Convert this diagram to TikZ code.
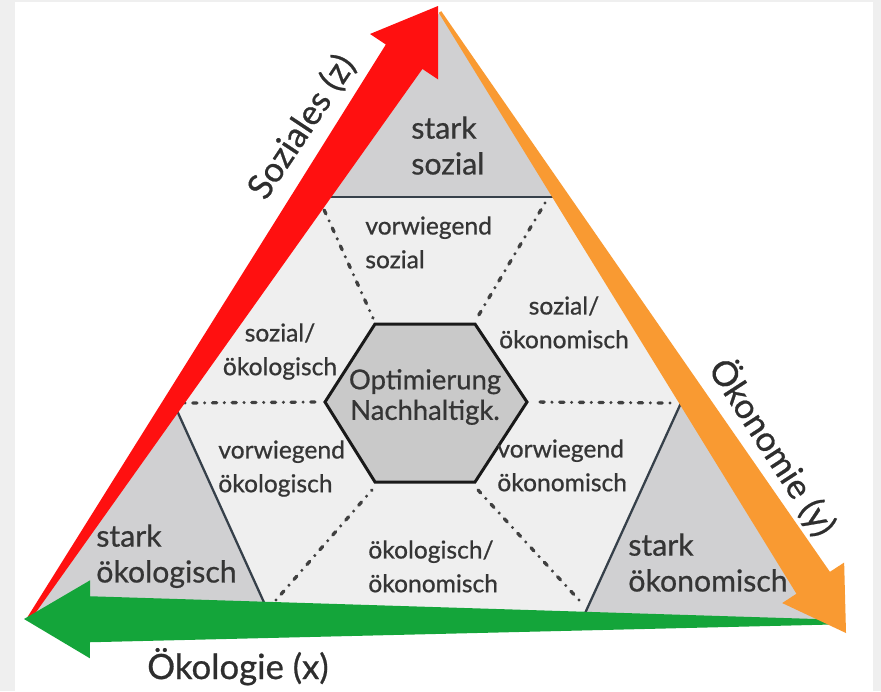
\documentclass[tikz,border=0pt]{standalone}
\usepackage{fontspec}
\setmainfont{Lato}
\newfontfamily\lblfont{Lato}[FakeBold=0.7]
\usetikzlibrary{calc}

\definecolor{framegray}{HTML}{EFEFEF}
\definecolor{midgray}{HTML}{EFEFEF}
\definecolor{cornergray}{HTML}{D0D0D2}
\definecolor{hexgray}{HTML}{C9C9C9}
\definecolor{cutline}{HTML}{36404A}
\definecolor{dotline}{HTML}{404040}
\definecolor{txtgray}{HTML}{353535}
\definecolor{socred}{HTML}{FF1010}
\definecolor{ecoorange}{HTML}{F99A32}
\definecolor{ecogreen}{HTML}{14A53A}

% wedge-shaped arrow: name, colour, tail, tip, head length, head half width,
% shaft half width at the tail, shaft half width at the neck (all in px units)
\newcommand\wedgearrow[8]{%
  \coordinate (#1-neck) at ($(#4)!#5*0.02cm!(#3)$);
  \fill[#2] ($(#3)!#7*0.02cm!90:(#4)$)
    -- ($(#1-neck)!#8*0.02cm!90:(#4)$)
    -- ($(#1-neck)!#6*0.02cm!90:(#4)$)
    -- (#4)
    -- ($(#1-neck)!#6*0.02cm!-90:(#4)$)
    -- ($(#1-neck)!#8*0.02cm!-90:(#4)$)
    -- ($(#3)!#7*0.02cm!-90:(#4)$) -- cycle;}

\begin{document}
\begin{tikzpicture}[x=0.02cm,y=-0.02cm,
  bigtxt/.style={inner sep=0pt, text=txtgray, align=left, anchor=north west,
    font=\lblfont\fontsize{17.2}{20.4}\selectfont},
  smalltxt/.style={inner sep=0pt, text=txtgray, align=left, anchor=north west,
    font=\lblfont\fontsize{14}{19.2}\selectfont},
  axistxt/.style={inner sep=0pt, text=black!82, font=\lblfont\fontsize{19.8}{22}\selectfont},
  cut/.style={draw=cutline, line width=1.3pt},
  dotsep/.style={draw=dotline, line width=1.9pt, line cap=round,
    dash pattern=on 0pt off 4.4pt on 2.4pt off 4.4pt}]

\useasboundingbox (0,0) rectangle (881,691);
\fill[framegray] (0,0) rectangle (881,691);
\fill[white] (15,2) rectangle (873,691);

% outer triangle
\coordinate (A) at (440,12);
\coordinate (B) at (28,620);
\coordinate (C) at (832,622);
\fill[midgray] (A) -- (B) -- (C) -- cycle;

% corner regions
\coordinate (T1) at (314,197);
\coordinate (T2) at (559,197);
\coordinate (L1) at (174,404);
\coordinate (L2) at (272,620);
\coordinate (R1) at (686,392);
\coordinate (R2) at (581,622);
\fill[cornergray] (A) -- (T1) -- (T2) -- cycle;
\fill[cornergray] (B) -- (L1) -- (L2) -- cycle;
\fill[cornergray] (C) -- (R1) -- (R2) -- cycle;
\draw[cut] (T1) -- (T2);
\draw[cut] (L1) -- (L2);
\draw[cut] (R1) -- (R2);

% central hexagon
\coordinate (H1) at (375,324);
\coordinate (H2) at (475,324);
\coordinate (H3) at (527,402);
\coordinate (H4) at (475,482);
\coordinate (H5) at (375,482);
\coordinate (H6) at (325,402);

% separating dotted lines
\coordinate (D1) at (321,203);
\coordinate (D2) at (545,203);
\coordinate (D3) at (185,403);
\coordinate (D4) at (670,403);
\coordinate (D5) at (276,600);
\coordinate (D6) at (579,600);
\draw[dotsep] (D1) -- ($(H1)+(-2,-6)$);
\draw[dotsep] (D2) -- ($(H2)+(2,-6)$);
\draw[dotsep] (D3) -- ($(H6)+(-6,0)$);
\draw[dotsep] (D4) -- ($(H3)+(6,0)$);
\draw[dotsep] (D5) -- ($(H5)+(-3,8)$);
\draw[dotsep] (D6) -- ($(H4)+(3,8)$);

\draw[fill=hexgray, draw=black!90, line width=1.7pt, line join=miter]
  (H1) -- (H2) -- (H3) -- (H4) -- (H5) -- (H6) -- cycle;

% region labels
\node[bigtxt] (starksoz) at (411,116) {stark\\sozial};
\node[smalltxt] (vwsoz) at (365,216) {vorwiegend\\sozial};
\node[smalltxt, align=center, anchor=north] (sozoek) at (280,323) {sozial/\\ökologisch};
\node[smalltxt, align=center, anchor=north] (sozoekon) at (564,296) {sozial/\\ökonomisch};
\node[smalltxt] (vwoek) at (218,440) {vorwiegend\\ökologisch};
\node[smalltxt] (vwoekon) at (497,439) {vorwiegend\\ökonomisch};
\node[smalltxt] (oekoekon) at (368,540) {ökologisch/\\ökonomisch};
\node[bigtxt] (starkoek) at (96,524) {stark\\ökologisch};
\node[bigtxt] (starkoekon) at (628,533) {stark\\ökonomisch};
\node[inner sep=0pt, text=txtgray, align=center,
  font=\lblfont\fontsize{15.6}{17.4}\selectfont] (optim) at (425,397) {Optimierung\\Nachhaltigk.};

% axis arrows
\coordinate (redtip) at (438,6);
\coordinate (orangetip) at (846,633);
\coordinate (greentip) at (24,619);
\wedgearrow{soz}{socred}{B}{redtip}{61}{41}{2}{22}
\wedgearrow{oek}{ecogreen}{C}{greentip}{66}{39}{2.5}{23}
\wedgearrow{okn}{ecoorange}{A}{orangetip}{60}{37}{1.5}{20}

% axis labels
\node[axistxt, rotate=56.4] (lblsoz) at (302,127) {Soziales (z)};
\node[axistxt, rotate=-57] (lblokn) at (773,447) {Ökonomie (y)};
\node[axistxt, anchor=base] (lbloek) at (238,679) {Ökologie (x)};
\end{tikzpicture}
\end{document}
